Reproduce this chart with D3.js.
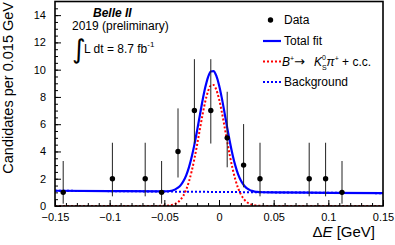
<!DOCTYPE html>
<html>
<head>
<meta charset="utf-8">
<script src="https://cdn.jsdelivr.net/npm/d3@7"></script>
<style>
  body { margin: 0; background: #fff; }
  svg { display: block; font-family: 'Liberation Sans', Arial, sans-serif; }
  .axis path { display: none; }
  .axis line { stroke: #000; stroke-width: 1; }
  .axis text { font-size: 11px; fill: #000; font-family: 'Liberation Sans', Arial, sans-serif; }
</style>
</head>
<body>
<svg class="chart"></svg>
<script>
//Data points (bin centres, counts and Poisson error bounds)
const binCenters = [-0.1425, -0.0975, -0.0675, -0.0525, -0.0375, -0.0225, -0.0075, 0.0075, 0.0225, 0.0375, 0.0825, 0.0975, 0.1125];
const counts = [1, 2, 2, 1, 4, 7, 7, 5, 3, 2, 2, 2, 1];
const errLow = [0.17, 0.71, 0.71, 0.17, 2.09, 4.58, 4.58, 2.84, 1.37, 0.71, 0.71, 0.71, 0.17];
const errHigh = [3.30, 4.64, 4.64, 3.30, 7.16, 10.77, 10.77, 8.38, 6.01, 4.64, 4.64, 4.64, 3.30];

//Fit curves
const fitX = [-0.15, -0.1, -0.05, -0.0475, -0.045, -0.0425, -0.04, -0.0375, -0.035, -0.0325, -0.03, -0.0275,
  -0.025, -0.0225, -0.02, -0.0175, -0.015, -0.0125, -0.01, -0.0075, -0.005, -0.0025, 0, 0.0025, 0.005,
  0.0075, 0.01, 0.0125, 0.015, 0.0175, 0.02, 0.0225, 0.025, 0.0275, 0.03, 0.0325, 0.035, 0.0375, 0.04,
  0.05, 0.1, 0.15];
const totalFit = [1.12, 1.09, 1.07, 1.08, 1.10, 1.14, 1.22, 1.34, 1.53, 1.83, 2.25, 2.83,
  3.59, 4.50, 5.55, 6.66, 7.76, 8.72, 9.46, 9.87, 9.90, 9.56, 8.88, 7.95, 6.87,
  5.75, 4.68, 3.73, 2.94, 2.32, 1.87, 1.55, 1.33, 1.20, 1.11, 1.06, 1.03, 1.02, 1.01,
  1.00, 0.97, 0.94];
const signalFit = [0, 0, 0.011, 0.022, 0.045, 0.087, 0.161, 0.284, 0.480, 0.777, 1.204, 1.788,
  2.541, 3.459, 4.506, 5.623, 6.718, 7.686, 8.419, 8.83, 8.87, 8.53, 7.854, 6.925, 5.848,
  4.727, 3.659, 2.712, 1.925, 1.308, 0.851, 0.530, 0.316, 0.181, 0.099, 0.052, 0.026, 0.012, 0.006,
  0, 0, 0];
const bgX = [-0.15, 0.15];
const bgFit = [1.12, 0.94];

//Axis ticks
const xTicks = [-0.15, -0.1, -0.05, 0, 0.05, 0.1, 0.15];
const xTickLabels = ['\u22120.15', '\u22120.1', '\u22120.05', '0', '0.05', '0.1', '0.15'];
const xMinorTicks = d3.range(-15, 16).map(i => i / 100);
const yTicks = [0, 2, 4, 6, 8, 10, 12, 14];
const yMinorTicks = d3.range(0, 30).map(i => i / 2);

const width = 395;
const height = 245;
const frame = { left: 55, right: 383, top: 1.5, bottom: 206 };

let svg = d3.select('svg.chart')
  .attr('width', width)
  .attr('height', height);

let x = d3.scaleLinear().domain([-0.15, 0.15]).range([frame.left, frame.right]);
let y = d3.scaleLinear().domain([0, 15]).range([frame.bottom, frame.top]);

//Clip curves to the frame
svg.append('clipPath').attr('id', 'clip')
  .append('rect')
    .attr('x', frame.left)
    .attr('y', frame.top)
    .attr('width', frame.right - frame.left)
    .attr('height', frame.bottom - frame.top);

let plot = svg.append('g').attr('clip-path', 'url(#clip)');

let line = d3.line()
  .x(d => x(d[0]))
  .y(d => y(d[1]))
  .curve(d3.curveMonotoneX);

//Background (blue dotted)
plot.append('path')
  .datum(bgX.map((v, i) => [v, bgFit[i]]))
  .attr('d', line)
  .attr('fill', 'none')
  .attr('stroke', '#0000ff')
  .attr('stroke-width', 2)
  .attr('stroke-dasharray', '2,2');

//Signal (red dotted)
plot.append('path')
  .datum(fitX.map((v, i) => [v, signalFit[i]]))
  .attr('d', line)
  .attr('fill', 'none')
  .attr('stroke', '#ff0000')
  .attr('stroke-width', 2)
  .attr('stroke-dasharray', '2,2');

//Total fit (blue solid)
plot.append('path')
  .datum(fitX.map((v, i) => [v, totalFit[i]]))
  .attr('d', line)
  .attr('fill', 'none')
  .attr('stroke', '#0000ff')
  .attr('stroke-width', 2.2);

//Error bars
plot.selectAll('.err')
  .data(binCenters)
  .enter()
  .append('line')
    .classed('err', true)
    .attr('x1', d => x(d))
    .attr('x2', d => x(d))
    .attr('y1', (d, i) => y(errLow[i]))
    .attr('y2', (d, i) => y(errHigh[i]))
    .attr('stroke', '#222')
    .attr('stroke-width', 1);

//Data points
plot.selectAll('.pt')
  .data(binCenters)
  .enter()
  .append('circle')
    .classed('pt', true)
    .attr('cx', d => x(d))
    .attr('cy', (d, i) => y(counts[i]))
    .attr('r', 2.7)
    .attr('fill', '#000');

//Axes, ticks pointing into the frame
svg.append('g')
  .classed('axis', true)
  .attr('transform', `translate(0,${frame.bottom})`)
  .call(d3.axisBottom(x).tickValues(xMinorTicks).tickSize(-3).tickFormat(''));

svg.append('g')
  .classed('axis', true)
  .attr('transform', `translate(0,${frame.bottom})`)
  .call(d3.axisBottom(x).tickValues(xTicks).tickSize(-6).tickPadding(7)
    .tickFormat((d, i) => xTickLabels[i]));

svg.append('g')
  .classed('axis', true)
  .attr('transform', `translate(${frame.left},0)`)
  .call(d3.axisLeft(y).tickValues(yMinorTicks).tickSize(-3).tickFormat(''));

svg.append('g')
  .classed('axis', true)
  .attr('transform', `translate(${frame.left},0)`)
  .call(d3.axisLeft(y).tickValues(yTicks).tickSize(-6).tickPadding(9));

//Frame
svg.append('rect')
  .attr('x', frame.left)
  .attr('y', frame.top)
  .attr('width', frame.right - frame.left)
  .attr('height', frame.bottom - frame.top)
  .attr('fill', 'none')
  .attr('stroke', '#000')
  .attr('stroke-width', 1.6);

//Axis titles
svg.append('text')
  .attr('transform', 'translate(13,2) rotate(-90)')
  .attr('text-anchor', 'end')
  .attr('font-size', 14.5)
  .text('Candidates per 0.015 GeV');

let xTitle = svg.append('text')
  .attr('x', 375)
  .attr('y', 237)
  .attr('text-anchor', 'end')
  .attr('font-size', 15);
xTitle.append('tspan').text('\u0394');
xTitle.append('tspan').attr('font-style', 'italic').text('E');
xTitle.append('tspan').text(' [GeV]');

//Experiment label
svg.append('text')
  .attr('x', 93)
  .attr('y', 17)
  .attr('font-size', 12)
  .attr('font-weight', 'bold')
  .attr('font-style', 'italic')
  .text('Belle II');

svg.append('text')
  .attr('x', 72)
  .attr('y', 30)
  .attr('font-size', 12)
  .text('2019 (preliminary)');

svg.append('text')
  .attr('x', 72)
  .attr('y', 58)
  .attr('font-size', 26)
  .attr('font-family', 'DejaVu Sans')
  .text('\u222B');

let lumi = svg.append('text')
  .attr('x', 84)
  .attr('y', 53)
  .attr('font-size', 12);
lumi.append('tspan').text('L dt = 8.7 fb');
lumi.append('tspan').attr('font-size', 8).attr('dy', -6).text('-1');

//Legend
const legendX = 284;
let legend = svg.append('g');

legend.append('circle')
  .attr('cx', 270.5).attr('cy', 20).attr('r', 2.7).attr('fill', '#000');
legend.append('text').attr('x', legendX).attr('y', 24).attr('font-size', 12).text('Data');

legend.append('line')
  .attr('x1', 263).attr('x2', 281).attr('y1', 41).attr('y2', 41)
  .attr('stroke', '#0000ff').attr('stroke-width', 2.2);
legend.append('text').attr('x', legendX).attr('y', 45).attr('font-size', 12).text('Total fit');

legend.append('line')
  .attr('x1', 263).attr('x2', 281).attr('y1', 61.5).attr('y2', 61.5)
  .attr('stroke', '#ff0000').attr('stroke-width', 2).attr('stroke-dasharray', '2,2');
let sigLabel = legend.append('text').attr('x', 282).attr('y', 66).attr('font-size', 12);
sigLabel.append('tspan').attr('font-style', 'italic').text('B');
sigLabel.append('tspan').attr('font-size', 7).attr('dy', -5).text('+');
sigLabel.append('tspan').attr('dy', 5).attr('font-family', 'DejaVu Sans').attr('font-size', 13).text('\u2192');
sigLabel.append('tspan').attr('dx', 9).attr('font-style', 'italic').text('K');
sigLabel.append('tspan').attr('font-size', 7).attr('dy', -6).text('0');
sigLabel.append('tspan').attr('font-size', 7).attr('dx', -4).attr('dy', 10).text('S');
sigLabel.append('tspan').attr('dy', -4).attr('font-style', 'italic').text('\u03C0');
sigLabel.append('tspan').attr('font-size', 7).attr('dy', -5).text('+');
sigLabel.append('tspan').attr('dy', 5).text(' + c.c.');

legend.append('line')
  .attr('x1', 263).attr('x2', 281).attr('y1', 82).attr('y2', 82)
  .attr('stroke', '#0000ff').attr('stroke-width', 2).attr('stroke-dasharray', '2,2');
legend.append('text').attr('x', legendX).attr('y', 86).attr('font-size', 12).text('Background');
</script>
</body>
</html>
